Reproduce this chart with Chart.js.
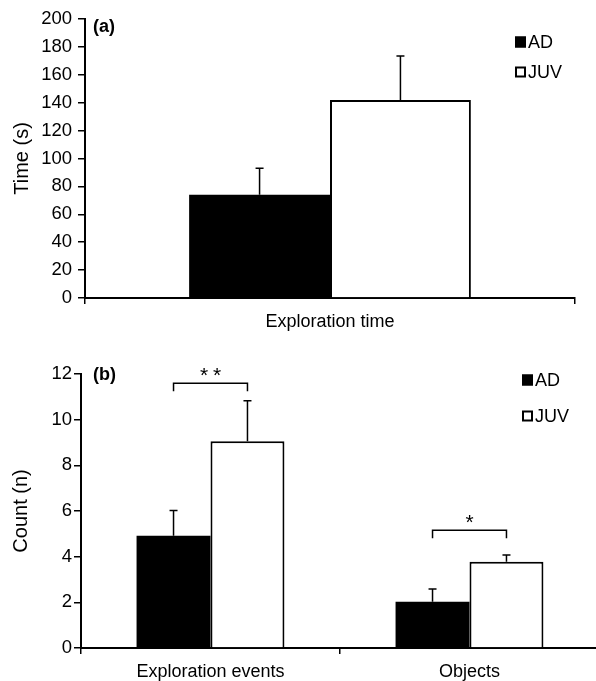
<!DOCTYPE html>
<html>
<head>
<meta charset="utf-8">
<script src="https://cdn.jsdelivr.net/npm/chart.js@4/dist/chart.umd.min.js"></script>
<style>
  body { margin: 0; background: #fff; width: 596px; height: 681px; overflow: hidden; position: relative; }
  #wrapA { position: absolute; left: 0; top: 0; }
  #wrapB { position: absolute; left: 0; top: 340px; }
</style>
</head>
<body>
<div id="wrapA"><canvas id="chartA" width="596" height="340"></canvas></div>
<div id="wrapB"><canvas id="chartB" width="600" height="341"></canvas></div>
<script>
// panel (a) - exploration time
var timeLabels = ['Exploration time'];
var timeAD = [74];
var timeADErr = [19];
var timeJUV = [142];
var timeJUVErr = [31.5];
var timeTicks = [0, 200, 20]; // min, max, step

// panel (b) - counts
var countLabels = ['Exploration events', 'Objects'];
var countAD = [4.92, 2.03];
var countADErr = [1.1, 0.55];
var countJUV = [9.05, 3.78];
var countJUVErr = [1.78, 0.29];
var countTicks = [0, 12, 2];
var sigMarks = ['**', '*'];
var sigLevels = [11.6, 5.16];

var groupNames = ['AD', 'JUV'];

var FONT = '"Liberation Sans", Arial, sans-serif';

// upper error bars with a small cap
var errorBars = {
  id: 'errorBars',
  afterDatasetsDraw: function(chart) {
    var ctx = chart.ctx, y = chart.scales.y;
    chart.data.datasets.forEach(function(ds, i) {
      var meta = chart.getDatasetMeta(i);
      meta.data.forEach(function(bar, j) {
        var top = y.getPixelForValue(ds.data[j] + ds.errors[j]);
        ctx.save();
        ctx.strokeStyle = '#000';
        ctx.lineWidth = 1.5;
        ctx.beginPath();
        ctx.moveTo(bar.x, bar.y);
        ctx.lineTo(bar.x, top);
        ctx.moveTo(bar.x - 4, top);
        ctx.lineTo(bar.x + 4, top);
        ctx.stroke();
        ctx.restore();
      });
    });
  }
};

// square legend stacked in the top right corner
var boxLegend = {
  id: 'boxLegend',
  afterDraw: function(chart, args, opts) {
    var ctx = chart.ctx;
    ctx.save();
    ctx.font = '18px ' + FONT;
    ctx.textBaseline = 'middle';
    ctx.textAlign = 'left';
    chart.data.datasets.forEach(function(ds, i) {
      var cy = opts.y + i * opts.gap;
      ctx.fillStyle = ds.backgroundColor;
      ctx.fillRect(opts.x, cy - 5.5, 11, 11);
      ctx.strokeStyle = '#000';
      ctx.lineWidth = 2;
      ctx.strokeRect(opts.x + 1, cy - 4.5, 9, 9);
      ctx.fillStyle = '#000';
      ctx.fillText(ds.label, opts.x + 13, cy + 1);
    });
    ctx.restore();
  }
};

// panel letter
var panelTag = {
  id: 'panelTag',
  afterDraw: function(chart, args, opts) {
    var ctx = chart.ctx;
    ctx.save();
    ctx.font = 'bold 18px ' + FONT;
    ctx.fillStyle = '#000';
    ctx.textBaseline = 'middle';
    ctx.fillText(opts.text, opts.x, opts.y);
    ctx.restore();
  }
};

// significance brackets between the two bars of each category
var sigBrackets = {
  id: 'sigBrackets',
  afterDatasetsDraw: function(chart, args, opts) {
    if (!opts.marks) return;
    var ctx = chart.ctx, y = chart.scales.y;
    var a = chart.getDatasetMeta(0).data, b = chart.getDatasetMeta(1).data;
    ctx.save();
    ctx.strokeStyle = '#000';
    ctx.fillStyle = '#000';
    ctx.lineWidth = 1.5;
    ctx.font = '21px ' + FONT;
    ctx.textAlign = 'center';
    ctx.textBaseline = 'alphabetic';
    opts.marks.forEach(function(mark, j) {
      var x1 = a[j].x, x2 = b[j].x, yy = y.getPixelForValue(opts.levels[j]);
      ctx.beginPath();
      ctx.moveTo(x1, yy + 8);
      ctx.lineTo(x1, yy);
      ctx.lineTo(x2, yy);
      ctx.lineTo(x2, yy + 8);
      ctx.stroke();
      var cx = (x1 + x2) / 2;
      for (var k = 0; k < mark.length; k++) {
        ctx.fillText(mark[k], cx + (k - (mark.length - 1) / 2) * 13, yy - 1);
      }
    });
    ctx.restore();
  }
};

function makeChart(id, labels, ad, adErr, juv, juvErr, ticks, title, cfg) {
  return new Chart(document.getElementById(id), {
    type: 'bar',
    data: {
      labels: labels,
      datasets: [{
        label: groupNames[0],
        data: ad,
        errors: adErr,
        backgroundColor: '#000',
        borderColor: '#000',
        borderWidth: 0
      }, {
        label: groupNames[1],
        data: juv,
        errors: juvErr,
        backgroundColor: '#fff',
        borderColor: '#000',
        borderWidth: 2
      }]
    },
    options: {
      responsive: false,
      animation: false,
      devicePixelRatio: 1,
      events: [],
      layout: { padding: cfg.padding },
      datasets: { bar: { categoryPercentage: cfg.catPct, barPercentage: 1 } },
      plugins: {
        legend: { display: false },
        tooltip: { enabled: false },
        boxLegend: cfg.legend,
        panelTag: cfg.tag,
        sigBrackets: cfg.sig || {}
      },
      scales: {
        x: {
          afterFit: function(s) { s.height = cfg.xHeight; },
          grid: { offset: true, drawOnChartArea: false, drawTicks: true, tickLength: 6, color: '#000', lineWidth: 1.5 },
          border: { display: true, color: '#000', width: 2 },
          ticks: { color: '#000', padding: 7, font: { family: FONT, size: 18 } }
        },
        y: {
          min: ticks[0],
          max: ticks[1],
          afterFit: function(s) { s.width = cfg.yWidth; },
          grid: { drawOnChartArea: false, drawTicks: true, tickLength: 7, color: '#000', lineWidth: 1.5 },
          border: { display: true, color: '#000', width: 2 },
          ticks: { stepSize: ticks[2], color: '#000', padding: cfg.tickPad, font: { family: FONT, size: 18.5 } },
          title: { display: true, text: title, color: '#000', padding: { top: cfg.titlePad, bottom: 0 }, font: { family: FONT, size: 20 } }
        }
      }
    },
    plugins: [errorBars, boxLegend, panelTag, sigBrackets]
  });
}

makeChart('chartA', timeLabels, timeAD, timeADErr, timeJUV, timeJUVErr, timeTicks, 'Time (s)', {
  padding: { left: 0, right: 21, top: 19, bottom: 0 },
  xHeight: 42, yWidth: 85, tickPad: 6, titlePad: 10, catPct: 0.575,
  legend: { x: 515, y: 42, gap: 30 },
  tag: { text: '(a)', x: 93, y: 27 }
});

makeChart('chartB', countLabels, countAD, countADErr, countJUV, countJUVErr, countTicks, 'Count (n)', {
  padding: { left: 0, right: 1, top: 34, bottom: 0 },
  xHeight: 33, yWidth: 81, tickPad: 2, titlePad: 9, catPct: 0.571,
  legend: { x: 522, y: 40, gap: 36 },
  tag: { text: '(b)', x: 93, y: 35 },
  sig: { marks: sigMarks, levels: sigLevels }
});
</script>
</body>
</html>
